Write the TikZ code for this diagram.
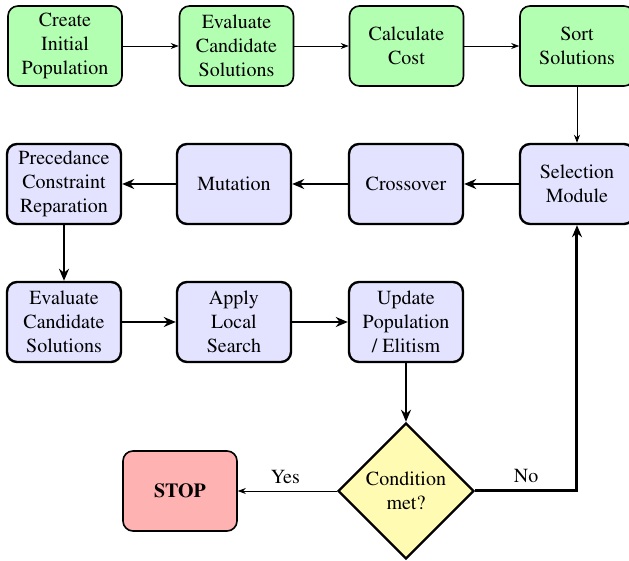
\documentclass[tikz,border=0pt]{standalone}
\usepackage[T1]{fontenc}
\usepackage{times}
\usetikzlibrary{arrows.meta,shapes.geometric}

\tikzset{
  procbox/.style={draw, rounded corners=5pt, minimum width=57pt, minimum height=40pt,
    align=center, inner sep=2pt, font=\normalsize},
  initbox/.style={procbox, fill=green!30, thick},
  loopbox/.style={procbox, fill=blue!11, very thick},
  stopbox/.style={procbox, fill=red!30, thick, font=\bfseries},
  decision/.style={draw, diamond, fill=yellow!30, very thick, minimum width=68pt,
    minimum height=68pt, inner sep=0pt, align=center},
  thinarrow/.style={-{Stealth[length=4pt,width=3pt]}, thin},
  thickarrow/.style={-{Stealth[length=6pt,width=5pt]}, very thick},
  looparrow/.style={-{Stealth[length=6pt,width=5pt]}, line width=1.5pt},
  edgelabel/.style={font=\normalsize}
}

\begin{document}
\begin{tikzpicture}[x=0.5pt, y=-0.5pt]
  \useasboundingbox (0,0) rectangle (629,561);

  % initialisation row
  \node[initbox] (create) at (65,46)    {Create\\Initial\\Population};
  \node[initbox] (eval1)  at (236.5,46) {Evaluate\\Candidate\\Solutions};
  \node[initbox] (cost)   at (406.5,46) {Calculate\\Cost};
  \node[initbox] (sort)   at (577,46)   {Sort\\Solutions};

  % genetic operators
  \node[loopbox] (select) at (577,184) {Selection\\Module};
  \node[loopbox] (cross)  at (406,184) {Crossover};
  \node[loopbox] (mutate) at (234,184) {Mutation};
  \node[loopbox] (repair) at (64,184)  {Precedance\\Constraint\\Reparation};

  % evaluation and update
  \node[loopbox] (eval2)  at (64,322)  {Evaluate\\Candidate\\Solutions};
  \node[loopbox] (local)  at (234,322) {Apply\\Local\\Search};
  \node[loopbox] (update) at (406,322) {Update\\Population\\/ Elitism};

  % termination
  \node[decision] (cond) at (406,491) {Condition\\met?};
  \node[stopbox]  (stop) at (180,491) {STOP};

  % connectors
  \draw[thinarrow] (create) -- (eval1);
  \draw[thinarrow] (eval1) -- (cost);
  \draw[thinarrow] (cost) -- (sort);
  \draw[thinarrow] (sort) -- (select);

  \draw[thickarrow] (select) -- (cross);
  \draw[thickarrow] (cross) -- (mutate);
  \draw[thickarrow] (mutate) -- (repair);
  \draw[thickarrow] (repair) -- (eval2);
  \draw[thickarrow] (eval2) -- (local);
  \draw[thickarrow] (local) -- (update);
  \draw[thickarrow] (update) -- (cond);

  \draw[thinarrow] (cond) -- node[edgelabel, above, pos=0.52] {Yes} (stop);
  \draw[looparrow]
    (cond.east) -| node[edgelabel, above, pos=0.25] {No} (select.south);
\end{tikzpicture}
\end{document}
